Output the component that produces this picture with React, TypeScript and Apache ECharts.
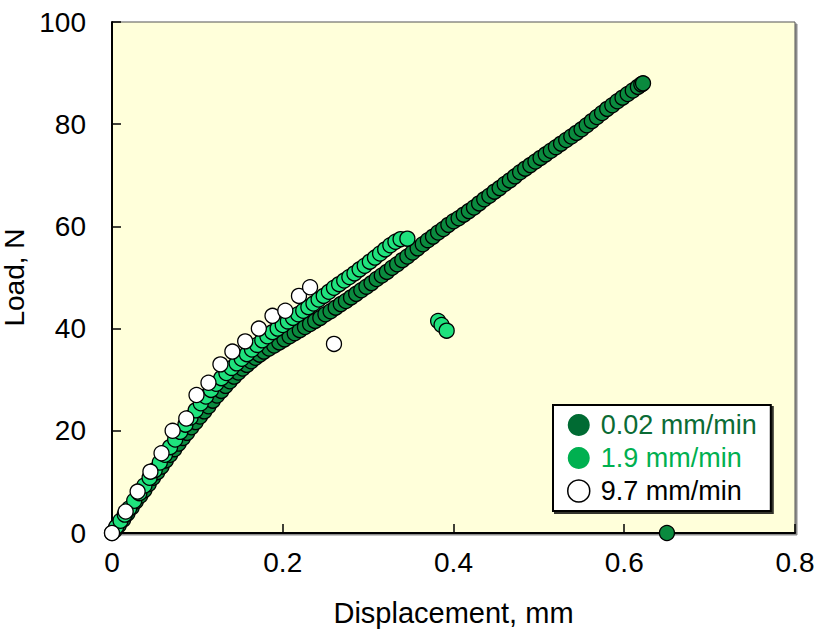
import React, { useEffect, useRef } from "react";
import * as echarts from "echarts";

const seriesNames = ["0.02 mm/min", "1.9 mm/min", "9.7 mm/min"];
const xTicks = [0, 0.2, 0.4, 0.6, 0.8];
const yTicks = [0, 20, 40, 60, 80, 100];

const slowData: number[][] = [
  [0.003, 0.5], [0.008, 1.5], [0.013, 2.6], [0.018, 3.8], [0.023, 5.0], [0.028, 6.2], [0.033, 7.3],
  [0.038, 8.4], [0.043, 9.6], [0.048, 10.8], [0.053, 11.9], [0.058, 13.0], [0.063, 14.2], [0.068, 15.3],
  [0.073, 16.4], [0.078, 17.5], [0.083, 18.6], [0.088, 19.6], [0.093, 20.7], [0.098, 21.7], [0.103, 22.8],
  [0.108, 23.8], [0.113, 24.8], [0.118, 25.9], [0.123, 26.9], [0.128, 27.8], [0.133, 28.8], [0.138, 29.7],
  [0.143, 30.6], [0.148, 31.4], [0.153, 32.2], [0.158, 32.9], [0.163, 33.6], [0.168, 34.3], [0.173, 34.9],
  [0.178, 35.5], [0.184, 36.1], [0.19, 36.7], [0.196, 37.3], [0.202, 37.9], [0.208, 38.5], [0.214, 39.1],
  [0.22, 39.7], [0.226, 40.3], [0.232, 40.9], [0.238, 41.5], [0.244, 42.1], [0.25, 42.8], [0.256, 43.4],
  [0.262, 44.1], [0.268, 44.8], [0.274, 45.4], [0.28, 46.1], [0.286, 46.8], [0.292, 47.5], [0.298, 48.2],
  [0.304, 48.9], [0.31, 49.7], [0.316, 50.4], [0.322, 51.1], [0.328, 51.9], [0.334, 52.6], [0.34, 53.4],
  [0.346, 54.1], [0.352, 54.9], [0.358, 55.7], [0.364, 56.5], [0.37, 57.3], [0.376, 58.0], [0.382, 58.8],
  [0.388, 59.5], [0.394, 60.3], [0.4, 61.0], [0.406, 61.6], [0.412, 62.3], [0.418, 63.0], [0.424, 63.7],
  [0.43, 64.5], [0.436, 65.3], [0.442, 66.0], [0.448, 66.8], [0.454, 67.5], [0.46, 68.3], [0.466, 69.0],
  [0.472, 69.8], [0.478, 70.6], [0.484, 71.3], [0.49, 72.0], [0.496, 72.7], [0.502, 73.4], [0.508, 74.1],
  [0.514, 74.8], [0.52, 75.5], [0.526, 76.2], [0.532, 76.9], [0.538, 77.6], [0.544, 78.3], [0.55, 79.0],
  [0.556, 79.8], [0.562, 80.6], [0.568, 81.4], [0.574, 82.2], [0.58, 83.0], [0.586, 83.7], [0.592, 84.5],
  [0.598, 85.2], [0.604, 85.9], [0.61, 86.6], [0.616, 87.3], [0.62, 87.8], [0.622, 88.0], [0.65, 0],
];

const midData: number[][] = [
  [0, 0], [0.005, 1.2], [0.01, 2.4], [0.015, 3.6], [0.02, 4.8], [0.026, 6.3], [0.032, 7.8], [0.038, 9.3],
  [0.044, 10.8], [0.05, 12.3], [0.056, 13.8], [0.062, 15.3], [0.068, 16.8], [0.074, 18.3], [0.08, 19.8],
  [0.086, 21.2], [0.092, 22.6], [0.098, 24.0], [0.104, 25.4], [0.11, 26.7], [0.116, 28.0], [0.122, 29.2],
  [0.128, 30.3], [0.134, 31.3], [0.14, 32.3], [0.146, 33.2], [0.152, 34.1], [0.158, 35.0], [0.164, 35.9],
  [0.17, 36.8], [0.176, 37.7], [0.182, 38.5], [0.188, 39.3], [0.194, 40.0], [0.2, 40.7], [0.206, 41.4],
  [0.212, 42.1], [0.218, 42.8], [0.224, 43.5], [0.23, 44.2], [0.236, 44.9], [0.242, 45.7], [0.248, 46.4],
  [0.254, 47.2], [0.26, 48.0], [0.266, 48.7], [0.272, 49.4], [0.278, 50.1], [0.284, 50.8], [0.29, 51.6],
  [0.296, 52.3], [0.302, 53.1], [0.308, 53.9], [0.314, 54.7], [0.32, 55.5], [0.326, 56.3], [0.332, 57.0],
  [0.338, 57.5], [0.346, 57.6], [0.382, 41.5], [0.386, 40.7], [0.392, 39.6],
];

const fastData: number[][] = [
  [0, 0], [0.016, 4.2], [0.03, 8.1], [0.045, 12.0], [0.058, 15.6], [0.071, 20.0], [0.087, 22.4],
  [0.099, 27.0], [0.113, 29.4], [0.127, 33.0], [0.141, 35.5], [0.156, 37.5], [0.172, 40.0],
  [0.188, 42.5], [0.203, 43.5], [0.219, 46.4], [0.232, 48.1], [0.26, 37.0],
];

const FONT = "'Liberation Sans', Arial, sans-serif";

export default function App() {
  const ref = useRef<HTMLDivElement>(null);
  useEffect(() => {
    if (!ref.current) return;
    const chart = echarts.init(ref.current, null, { renderer: "svg" });
    const sym = (fill: string) => ({
      color: fill,
      borderColor: "#000",
      borderWidth: 1.3,
      opacity: 1,
    });
    chart.setOption({
      animation: false,
      backgroundColor: "#fff",
      grid: {
        left: 112,
        top: 22,
        right: 24,
        bottom: 107,
        containLabel: false,
        outerBoundsMode: "none",
        show: true,
        backgroundColor: "#FFFFDA",
        borderColor: "#555",
        borderWidth: 1,
        shadowColor: "rgba(0,0,0,0.45)",
        shadowOffsetX: 2,
        shadowOffsetY: 2,
        shadowBlur: 0,
      },
      xAxis: {
        type: "value",
        min: xTicks[0],
        max: xTicks[xTicks.length - 1],
        interval: 0.2,
        name: "Displacement, mm",
        nameLocation: "middle",
        nameGap: 65,
        nameTextStyle: { fontFamily: FONT, fontSize: 29, color: "#000" },
        axisLine: { show: true, lineStyle: { color: "#000", width: 2 } },
        axisTick: { show: true, inside: true, length: 9, lineStyle: { color: "#000", width: 1.5 } },
        axisLabel: {
          fontFamily: FONT,
          fontSize: 28,
          color: "#000",
          margin: 15,
          formatter: (v: number) => String(Number(v.toFixed(1))),
        },
        splitLine: { show: false },
      },
      yAxis: {
        type: "value",
        min: yTicks[0],
        max: yTicks[yTicks.length - 1],
        interval: 20,
        name: "Load, N",
        nameLocation: "middle",
        nameGap: 63,
        nameTextStyle: { fontFamily: FONT, fontSize: 28, color: "#000" },
        axisLine: { show: true, lineStyle: { color: "#000", width: 2 } },
        axisTick: { show: true, inside: true, length: 9, lineStyle: { color: "#000", width: 1.5 } },
        axisLabel: { fontFamily: FONT, fontSize: 28, color: "#000", margin: 26 },
        splitLine: { show: false },
      },
      legend: {
        orient: "vertical",
        left: 553,
        top: 405,
        padding: [5, 14, 5, 14],
        itemWidth: 22,
        itemHeight: 22,
        itemGap: 3,
        backgroundColor: "#fff",
        borderColor: "#000",
        borderWidth: 2,
        shadowColor: "rgba(0,0,0,0.8)",
        shadowOffsetX: 2,
        shadowOffsetY: 2,
        shadowBlur: 0,
        icon: "circle",
        textStyle: { fontFamily: FONT, fontSize: 27, lineHeight: 30, padding: [0, 0, 0, 6] },
        data: [
          { name: seriesNames[0], itemStyle: { color: "#006B33", borderWidth: 0 }, textStyle: { color: "#0B6B35" } },
          { name: seriesNames[1], itemStyle: { color: "#00B050", borderWidth: 0 }, textStyle: { color: "#00B050" } },
          { name: seriesNames[2], itemStyle: { color: "#fff", borderColor: "#000", borderWidth: 1.5 }, textStyle: { color: "#000" } },
        ],
      },
      series: [
        {
          name: seriesNames[0],
          type: "scatter",
          symbol: "circle",
          symbolSize: 15,
          data: slowData,
          itemStyle: sym("#0A8A3E"),
          z: 2,
        },
        {
          name: seriesNames[1],
          type: "scatter",
          symbol: "circle",
          symbolSize: 15,
          data: midData,
          itemStyle: sym("#1FE27D"),
          z: 3,
        },
        {
          name: seriesNames[2],
          type: "scatter",
          symbol: "circle",
          symbolSize: 15,
          data: fastData,
          itemStyle: sym("#FFFFFF"),
          z: 4,
        },
      ],
    });
    return () => chart.dispose();
  }, []);
  return <div ref={ref} style={{ width: 819, height: 640, position: "fixed", left: 0, top: 0 }} />;
}
